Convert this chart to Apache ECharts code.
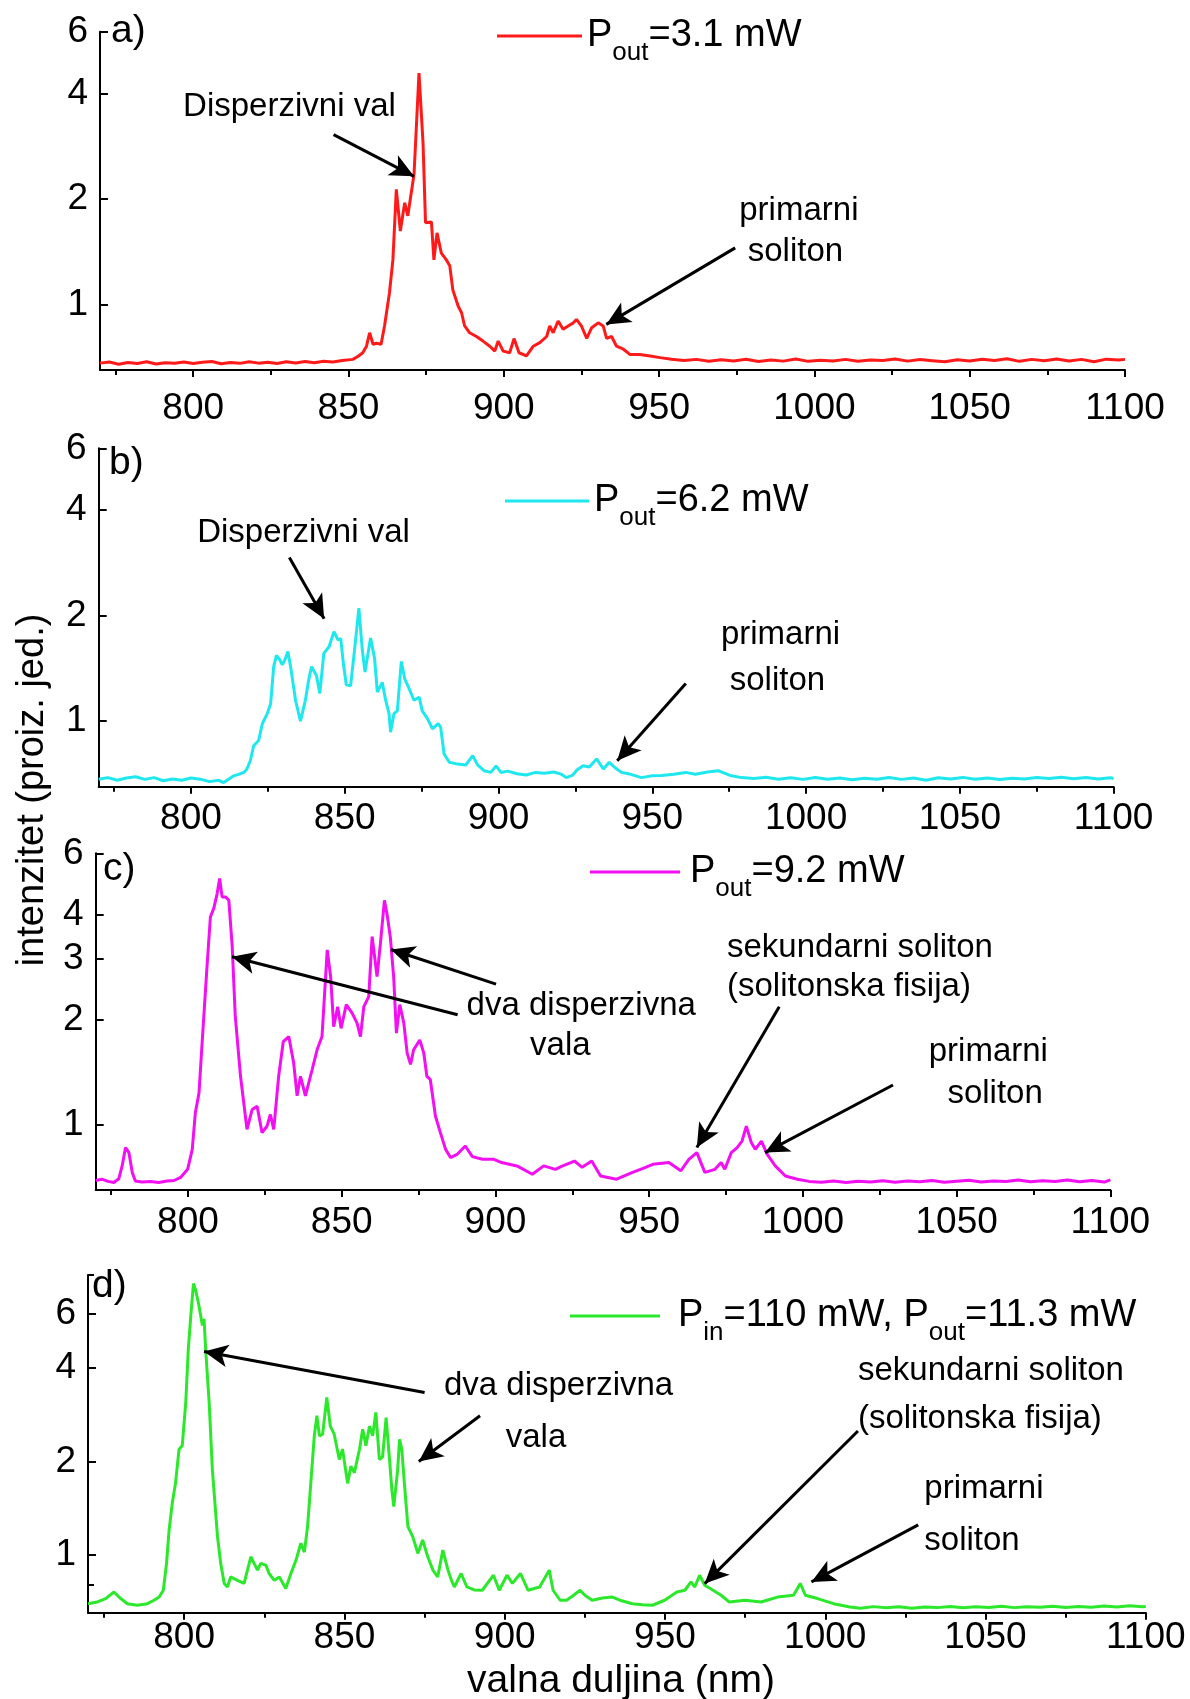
<!DOCTYPE html>
<html><head><meta charset="utf-8">
<script src="https://cdn.jsdelivr.net/npm/echarts@6/dist/echarts.min.js"></script>
<style>html,body{margin:0;padding:0;background:#fff}#c{width:1190px;height:1699px}</style>
</head><body><div id="c"></div>
<script>
// ---------- DATA ----------
const xTicks = [800, 850, 900, 950, 1000, 1050, 1100];
const xMinorTicks = [775, 825, 875, 925, 975, 1025, 1075];
const yTicksStd = [1, 2, 4, 6];
const yTicksC = [1, 2, 3, 4, 6];
const yMinorD = [0.8, 8];

// [wavelength nm, intensity]
const specA = [
[770,0.680],[773,0.685],[776,0.675],[779,0.683],[782,0.678],[785,0.686],[788,0.676],[791,0.682],[794,0.679],[797,0.685],
[800,0.678],[803,0.684],[806,0.687],[809,0.677],[812,0.683],[815,0.679],[818,0.686],[821,0.680],[824,0.684],[827,0.678],
[830,0.686],[833,0.681],[836,0.687],[839,0.682],[842,0.688],[845,0.685],[848,0.692],[851.4,0.697],[853,0.710],[854.6,0.728],
[855.8,0.760],[856.8,0.830],[857.9,0.770],[859,0.775],[860.5,0.770],[861.6,0.868],[863.2,1.08],[864.3,1.34],[865.4,2.13],
[866.7,1.62],[868.1,1.95],[869.1,1.79],[870.2,2.08],[871.1,2.35],[872.7,4.57],[874,2.89],[874.8,1.71],[876.7,1.72],
[877.5,1.34],[878.5,1.60],[879.9,1.40],[881.5,1.34],[882.6,1.29],[883.6,1.10],[885.3,0.99],[886.4,0.947],[887.4,0.868],
[889,0.83],[891.2,0.81],[893.3,0.786],[895.5,0.76],[897.1,0.736],[898.2,0.786],[899.8,0.736],[901.9,0.728],[903.3,0.799],
[904.9,0.728],[907.3,0.713],[909.5,0.76],[911.6,0.778],[913.8,0.81],[914.8,0.868],[915.9,0.83],[917.5,0.897],[919.1,0.849],
[920.7,0.868],[922.4,0.886],[923.4,0.906],[925,0.868],[926.7,0.80],[928.3,0.858],[930.4,0.886],[932,0.868],[933.1,0.80],
[934.7,0.81],[936.3,0.76],[938.5,0.745],[940.6,0.72],[943.8,0.72],[947.1,0.713],[950.3,0.705],[954,0.698],[958,0.692],
[962,0.697],[966,0.688],[970,0.695],[974,0.690],[978,0.698],[982,0.687],[986,0.694],[990,0.689],[994,0.699],[998,0.688],
[1002,0.693],[1006,0.690],[1010,0.697],[1014,0.688],[1018,0.694],[1022,0.692],[1026,0.699],[1030,0.689],[1034,0.696],
[1038,0.691],[1042,0.686],[1046,0.695],[1050,0.690],[1054,0.698],[1058,0.692],[1062,0.700],[1066,0.688],[1070,0.697],
[1074,0.691],[1078,0.699],[1082,0.690],[1086,0.697],[1090,0.686],[1094,0.698],[1098,0.694],[1100,0.697]
];
const specB = [
[770,0.683],[773,0.690],[776,0.678],[779,0.688],[782,0.694],[785,0.682],[788,0.690],[791,0.676],[794,0.684],[797,0.678],
[800,0.688],[803,0.683],[806,0.672],[809,0.678],[810.6,0.668],[812,0.680],[813.9,0.698],[815.5,0.705],[817.2,0.714],
[818.2,0.730],[819.3,0.771],[820.4,0.851],[822,0.880],[823.2,0.983],[824.8,1.05],[825.9,1.12],[826.9,1.43],[827.8,1.54],
[828.8,1.50],[829.7,1.446],[830.6,1.50],[831.5,1.58],[832.4,1.43],[834,1.147],[835.6,1.00],[837.2,1.147],[838.2,1.30],
[839.2,1.43],[840.8,1.35],[841.9,1.20],[843.2,1.56],[844.9,1.63],[846.5,1.80],[847.8,1.705],[848.7,1.72],[849.6,1.45],
[850.5,1.27],[851.9,1.26],[853.2,1.60],[854.6,2.10],[855.7,1.60],[856.6,1.38],[858.4,1.725],[859.7,1.51],[860.6,1.21],
[862.2,1.29],[863.3,1.147],[864.4,1.05],[864.9,0.93],[866,1.05],[867.1,1.07],[868.4,1.48],[869.5,1.32],[870.9,1.24],
[872.5,1.147],[874.2,1.17],[875.2,1.07],[876.9,1.016],[878.5,0.951],[880.4,0.983],[881.2,0.96],[882.3,0.806],[884,0.763],
[886.7,0.754],[889.4,0.750],[891.6,0.797],[893.2,0.750],[895.3,0.722],[897.5,0.714],[899.2,0.745],[900.8,0.714],[903,0.720],
[906,0.708],[909,0.702],[912,0.714],[915,0.710],[918,0.716],[920.3,0.706],[922,0.690],[924,0.700],[925.5,0.725],[927.5,0.746],
[929.5,0.740],[931.9,0.780],[934.1,0.730],[936,0.763],[938,0.735],[940,0.714],[943,0.705],[946.5,0.690],[950,0.698],
[953,0.700],[957,0.705],[960.9,0.714],[964,0.705],[968,0.716],[971.4,0.722],[975.3,0.700],[979,0.690],[983,0.686],
[987,0.692],[991,0.683],[995,0.689],[999,0.682],[1003,0.690],[1007,0.683],[1011,0.688],[1015,0.680],[1019,0.687],
[1023,0.683],[1027,0.690],[1031,0.682],[1035,0.688],[1039,0.678],[1043,0.689],[1047,0.684],[1051,0.691],[1055,0.683],
[1059,0.688],[1063,0.681],[1067,0.687],[1071,0.684],[1075,0.690],[1079,0.686],[1083,0.692],[1087,0.685],[1091,0.690],
[1095,0.684],[1099,0.689],[1100,0.686]
];
const specC = [
[770,0.692],[772,0.698],[774,0.688],[775.9,0.683],[777.5,0.700],[778.6,0.762],[779.7,0.860],[780.8,0.832],[781.9,0.729],
[782.9,0.690],[785,0.685],[787.8,0.687],[790.5,0.683],[793.2,0.690],[795.5,0.692],[797.6,0.706],[799.9,0.745],[801.4,0.850],
[802.4,1.08],[803.6,1.234],[804.6,1.71],[806.2,2.84],[807.3,3.94],[808.4,4.17],[809.5,4.60],[810.3,5.08],[811.1,4.50],
[812.2,4.50],[813.3,4.40],[814.4,3.24],[815.4,2.04],[817.1,1.377],[819.2,0.97],[820.9,1.106],[822.5,1.13],[824.1,0.949],
[825.7,0.99],[826.8,1.07],[827.9,0.97],[829.5,1.377],[831,1.73],[832.8,1.79],[834.4,1.50],[835.5,1.21],[836.6,1.377],
[838.2,1.21],[840.4,1.44],[842,1.64],[843.6,1.79],[845.3,3.17],[846.4,2.66],[847.4,1.91],[848.7,2.18],[849.8,1.89],
[851.5,2.21],[853.4,2.09],[855,1.955],[856.1,1.79],[857.2,2.18],[858.8,2.33],[859.9,3.46],[861.5,2.66],[862.6,3.31],
[863.9,4.40],[864.8,3.99],[865.8,3.46],[866.9,2.66],[867.8,1.83],[868.9,2.21],[870.2,1.955],[871.3,1.605],[872.4,1.49],
[873.4,1.64],[875.4,1.75],[876.7,1.605],[877.7,1.377],[878.8,1.35],[880.5,1.058],[882.1,0.949],[883.8,0.85],[885.4,0.805],
[887.5,0.822],[890.2,0.869],[892.5,0.810],[895.8,0.796],[899.5,0.796],[902,0.779],[907,0.762],[912,0.721],[915.7,0.762],
[919.5,0.745],[921.5,0.760],[925.7,0.787],[928.2,0.755],[931.3,0.787],[934.2,0.713],[939.4,0.698],[944.6,0.730],[948,0.750],
[951.2,0.770],[956.4,0.779],[960.3,0.738],[962.9,0.796],[965.5,0.832],[968.1,0.730],[971.4,0.745],[973.4,0.779],[974.6,0.745],
[976.7,0.832],[978.6,0.860],[980.2,0.898],[981.6,0.990],[983.2,0.890],[984.5,0.850],[986.5,0.898],[988.4,0.822],[991,0.762],
[994.3,0.713],[998.2,0.698],[1002,0.688],[1006,0.684],[1010,0.690],[1014,0.683],[1018,0.689],[1022,0.685],[1026,0.691],
[1030,0.684],[1034,0.690],[1038,0.686],[1042,0.692],[1046,0.684],[1050,0.689],[1054,0.693],[1058,0.685],[1062,0.690],
[1066,0.687],[1070,0.694],[1074,0.686],[1078,0.691],[1082,0.688],[1086,0.694],[1090,0.686],[1094,0.692],[1098,0.685],[1100,0.695]
];
const specD = [
[770,0.695],[772.9,0.704],[775.5,0.722],[778.1,0.758],[780.2,0.722],[782.3,0.695],[785.4,0.687],[788.5,0.695],[790.6,0.713],
[792.2,0.730],[793.5,0.768],[794.5,0.938],[795.3,1.20],[796.3,1.47],[797.3,1.70],[798.4,2.19],[799.4,2.25],[800.5,3.10],
[801.3,4.62],[802,5.78],[802.9,7.51],[803.6,7.14],[804.6,6.38],[805.7,5.50],[806.2,5.78],[806.7,4.62],[807.8,3.10],
[808.8,1.88],[810.4,1.144],[811.4,0.938],[812.5,0.808],[813.5,0.787],[814.5,0.848],[816.6,0.827],[818.7,0.808],[820.8,0.985],
[821.8,0.938],[822.9,0.892],[823.9,0.938],[825.5,0.925],[826.5,0.870],[828.1,0.827],[829.7,0.848],[831.7,0.778],[833.3,0.870],
[834.9,0.961],[836.4,1.089],[837.5,1.02],[838.5,1.233],[839.5,1.70],[840.6,2.42],[841.4,2.81],[842.2,2.42],[843.2,2.45],
[844.5,3.22],[845.6,2.60],[846.8,2.45],[848.4,2.03],[849.4,2.19],[851,1.70],[852,1.93],[853.1,1.84],[854.7,2.19],[855.7,2.54],
[856.7,2.25],[857.8,2.60],[858.8,2.42],[859.8,2.88],[860.9,2.03],[861.9,2.07],[863,2.77],[864,2.07],[864.8,1.62],[865.4,1.43],
[866.6,1.88],[867.2,2.36],[867.9,2.19],[868.7,1.70],[869.8,1.233],[871.3,1.144],[872.9,1.01],[874.4,1.116],[876,0.985],
[877.6,0.892],[879.1,0.848],[880.7,1.035],[882.3,0.892],[883.4,0.827],[884.3,0.787],[886.4,0.870],[888.2,0.787],[890.5,0.770],
[893,0.768],[896.5,0.859],[898.3,0.768],[900.7,0.859],[902.4,0.808],[904.9,0.870],[907.3,0.768],[910.9,0.787],[913.9,0.892],
[915.1,0.768],[917.3,0.713],[919.3,0.713],[921.5,0.740],[923.5,0.768],[925,0.740],[927.3,0.713],[930.5,0.725],[933.6,0.730],
[936.5,0.710],[939.8,0.695],[943,0.690],[946.1,0.687],[949.9,0.713],[953.7,0.758],[956.2,0.768],[958.1,0.817],[959.3,0.787],
[960.8,0.859],[962.4,0.797],[965,0.768],[967.5,0.740],[970,0.704],[975,0.713],[980,0.704],[985.1,0.730],[990.1,0.740],
[992.2,0.808],[993.8,0.740],[997.6,0.722],[1002.6,0.695],[1007.7,0.678],[1011,0.672],[1015,0.680],[1019,0.674],[1023,0.679],
[1027,0.672],[1031,0.678],[1035,0.675],[1039,0.681],[1043,0.674],[1047,0.679],[1051,0.676],[1055,0.682],[1059,0.675],
[1063,0.680],[1067,0.677],[1071,0.682],[1075,0.676],[1079,0.681],[1083,0.677],[1087,0.683],[1091,0.678],[1095,0.684],
[1099,0.679],[1100,0.681]
];

// ---------- ANNOTATIONS (data coordinates) ----------
const notesA = [
  {t:'Disperzivni val', c:[831.0, 3.66]},
  {t:'primarni', c:[995.0, 1.847]}, {t:'soliton', c:[993.9, 1.411]}
];
const arrowsA = [[[845.2, 3.05],[871.1, 2.32]], [[974.5, 1.45],[933.0, 0.877]]];
const notesB = [
  {t:'Disperzivni val', c:[836.6, 3.44]},
  {t:'primarni', c:[991.7, 1.757]}, {t:'soliton', c:[990.7, 1.30]}
];
const arrowsB = [[[832.0, 2.93],[843.3, 1.96]], [[960.9, 1.28],[938.6, 0.771]]];
const notesC = [
  {t:'dva disperzivna', c:[927.9, 2.196]}, {t:'vala', c:[921.1, 1.687]},
  {t:'sekundarni soliton', c:[975.3, 3.22], a:'left'}, {t:'(solitonska fisija)', c:[975.3, 2.484], a:'left'},
  {t:'primarni', c:[1060.3, 1.62]}, {t:'soliton', c:[1062.5, 1.228]}
];
const arrowsC = [[[887.7, 2.066],[814.3, 3.03]], [[900.2, 2.53],[866.0, 3.18]], [[992.3, 2.18],[965.5, 0.86]], [[1029.3, 1.30],[987.7, 0.832]]];
const notesD = [
  {t:'dva disperzivna', c:[916.8, 3.50]}, {t:'vala', c:[909.75, 2.39]},
  {t:'sekundarni soliton', c:[1010.2, 3.93], a:'left'}, {t:'(solitonska fisija)', c:[1010.2, 2.736], a:'left'},
  {t:'primarni', c:[1030.9, 1.634], a:'left'}, {t:'soliton', c:[1030.9, 1.11], a:'left'}
];
const arrowsD = [[[875.0, 3.34],[806.2, 4.53]], [[892.3, 2.81],[873.2, 2.0]], [[1010.2, 2.51],[962.4, 0.807]], [[1029.0, 1.248],[995.7, 0.817]]];

// ---------- LAYOUT ----------
const FONT = '"Liberation Sans", Arial, Helvetica, sans-serif';
const panels = [
  {spec:specA, name:'Pout=3.1 mW', color:'#ff1a1a', grid:{left:100, top:31.7, width:1025, height:338.3}, yMax:6, yTicks:yTicksStd, xMargin:20,
   lg:{left:497, top:17, w:85, gap:0, fmt:'{p0|P}{s|out}{p|=3.1 mW}'}, notes:notesA, arrows:arrowsA, tag:'a)', tagPos:[111, 31]},
  {spec:specB, name:'Pout=6.2 mW', color:'#1ee8ee', grid:{left:98.7, top:448.3, width:1014.9, height:338.4}, yMax:6, yTicks:yTicksStd, xMargin:14,
   lg:{left:505, top:482, w:84, gap:0, fmt:'{p0|P}{s|out}{p|=6.2 mW}'}, notes:notesB, arrows:arrowsB, tag:'b)', tagPos:[109, 463]},
  {spec:specC, name:'Pout=9.2 mW', color:'#f20ff2', grid:{left:95.7, top:853.3, width:1014.7, height:336.7}, yMax:6, yTicks:yTicksC, xMargin:14,
   lg:{left:590, top:853, w:90, gap:5, fmt:'{p0|P}{s|out}{p|=9.2 mW}'}, notes:notesC, arrows:arrowsC, tag:'c)', tagPos:[103, 869]},
  {spec:specD, name:'Pin=110 mW, Pout=11.3 mW', color:'#2be82b', grid:{left:88, top:1275, width:1057.8, height:337.7}, yMax:8, yTicks:yTicksStd, xMargin:7,
   lg:{left:570, top:1297, w:90, gap:13, fmt:'{p0|P}{s|in}{p|=110 mW, P}{s|out}{p|=11.3 mW}'}, notes:notesD, arrows:arrowsD, tag:'d)', tagPos:[92, 1286]}
];

const grids = [], xAxes = [], yAxes = [], series = [], legends = [], graphics = [];
panels.forEach((p, i) => {
  grids.push(Object.assign({containLabel:false}, p.grid));
  xAxes.push({
    type:'value', gridIndex:i, min:770, max:1100, position:'bottom',
    axisLine:{show:true, onZero:false, lineStyle:{color:'#000', width:2}},
    axisTick:{show:true, customValues:xTicks, length:7, lineStyle:{color:'#000', width:2}},
    axisLabel:{show:true, customValues:xTicks, fontSize:37, color:'#000', fontFamily:FONT, margin:p.xMargin,
      formatter: v => String(Math.round(v))},
    splitLine:{show:false}
  });
  xAxes.push({
    type:'value', gridIndex:i, min:770, max:1100, position:'bottom', offset:0,
    axisLine:{show:false, onZero:false},
    axisTick:{show:true, customValues:xMinorTicks, length:5, lineStyle:{color:'#000', width:2}},
    axisLabel:{show:false}, splitLine:{show:false}
  });
  yAxes.push({
    type:'log', logBase:10, gridIndex:i, min:0.65, max:p.yMax, position:'left',
    axisLine:{show:true, onZero:false, lineStyle:{color:'#000', width:2}},
    axisTick:{show:true, inside:true, customValues:p.yTicks, length:8, lineStyle:{color:'#000', width:2}},
    axisLabel:{show:true, customValues:p.yTicks, fontSize:37, color:'#000', fontFamily:FONT, margin:12,
      formatter: v => String(Math.round(v * 10) / 10)},
    splitLine:{show:false}, minorTick:{show:false}
  });
  series.push({
    type:'line', name:p.name, xAxisIndex:2 * i, yAxisIndex:i,
    data:p.spec, symbol:'none', showSymbol:false, color:p.color,
    lineStyle:{color:p.color, width:3}, silent:true, z:3,
    markPoint:{
      silent:true, animation:false,
      data:p.notes.map(n => ({
        coord:n.c, symbol:'circle', symbolSize:1, itemStyle:{color:'rgba(0,0,0,0)'},
        label:{show:true, position:'inside', formatter:n.t, align:n.a || 'center', verticalAlign:'middle',
          fontSize:33, fontFamily:FONT, color:'#000'}
      }))
    },
    markLine:{
      silent:true, animation:false, symbol:['none','arrow'], symbolSize:[17, 24],
      label:{show:false}, lineStyle:{color:'#000', width:3, type:'solid'},
      data:p.arrows.map(a => [{coord:a[0]}, {coord:a[1]}])
    }
  });
  legends.push({
    data:[p.name], left:p.lg.left, top:p.lg.top, padding:0, selectedMode:false,
    icon:'rect', itemWidth:p.lg.w, itemHeight:3,
    formatter: () => p.lg.fmt,
    textStyle:{
      color:'#000', fontFamily:FONT, fontSize:38,
      rich:{
        p:{fontSize:38, fontFamily:FONT, color:'#000'},
        p0:{fontSize:38, fontFamily:FONT, color:'#000', padding:[0,0,0,p.lg.gap]},
        s:{fontSize:26, fontFamily:FONT, color:'#000', padding:[34,0,0,0]}
      }
    }
  });
  graphics.push({type:'text', x:p.tagPos[0], y:p.tagPos[1], silent:true,
    style:{text:p.tag, font:'39px ' + FONT, fill:'#000', align:'left', verticalAlign:'middle', textAlign:'left', textVerticalAlign:'middle'}});
});
// minor log ticks for panel d
yAxes.push({
  type:'log', logBase:10, gridIndex:3, min:0.65, max:8, position:'left', offset:0,
  axisLine:{show:false, onZero:false},
  axisTick:{show:true, inside:true, customValues:yMinorD, length:6, lineStyle:{color:'#000', width:2}},
  axisLabel:{show:false}, splitLine:{show:false}
});
graphics.push({type:'text', x:33, y:790, rotation:Math.PI / 2, silent:true,
  style:{text:'intenzitet (proiz. jed.)', font:'38px ' + FONT, fill:'#000', align:'center', verticalAlign:'middle', textAlign:'center', textVerticalAlign:'middle'}});
graphics.push({type:'text', x:621, y:1681, silent:true,
  style:{text:'valna duljina (nm)', font:'39px ' + FONT, fill:'#000', align:'center', verticalAlign:'middle', textAlign:'center', textVerticalAlign:'middle'}});

const chart = echarts.init(document.getElementById('c'), null, {renderer:'canvas'});
chart.setOption({
  animation:false,
  backgroundColor:'#fff',
  textStyle:{fontFamily:FONT},
  grid:grids, xAxis:xAxes, yAxis:yAxes, series:series, legend:legends, graphic:graphics
});
</script>
</body></html>
